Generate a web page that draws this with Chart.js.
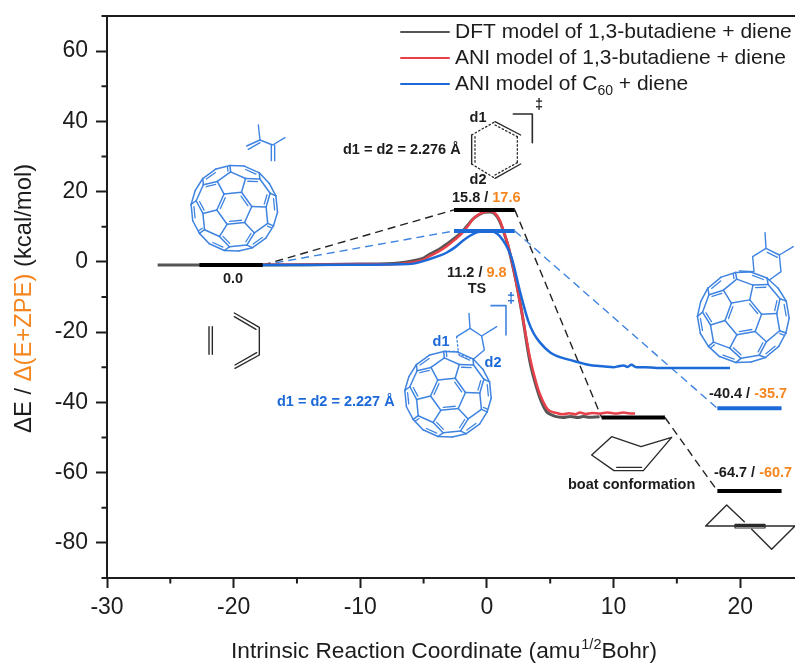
<!DOCTYPE html>
<html>
<head>
<meta charset="utf-8">
<style>html,body{margin:0;padding:0;background:#fff}canvas{display:block}</style>
<script src="https://cdn.jsdelivr.net/npm/chart.js@4"></script>
</head>
<body>
<canvas id="c" width="795" height="664"></canvas>
<script>
// ---- curves ----
const dftX = [-26,-22,-18,-14,-10,-8,-7,-6,-5,-4.5,-3.8,-3.2,-2.5,-1.9,-1.5,-1.1,-0.6,-0.2,0.2,0.6,1,1.3,1.65,1.95,2.3,2.74,3.4,3.9,4.3,4.7,5.0,5.4,6,6.6,7.2,7.6,8.0,8.9];
const dftY = [-0.9,-0.9,-0.9,-0.8,-0.6,-0.5,-0.3,0.2,1.1,2.2,3.5,5,6.9,8.8,10.5,12.2,13.5,14.1,14.2,13.7,11.6,8.8,4.8,0.3,-5.5,-14,-28.5,-35.5,-39.8,-42.6,-43.4,-44,-44.3,-44,-44.3,-44,-44.2,-44.1];
const aniButX = [-20,-15,-10,-7,-6,-5,-4.5,-3.8,-3.2,-2.5,-1.9,-1.5,-1.1,-0.6,-0.2,0.2,0.6,1,1.3,1.65,1.95,2.3,2.74,3.4,3.9,4.19,4.8,5.5,6,6.5,7,7.35,7.8,8.3,8.9,9.5,10.2,10.8,11.2,11.7];
const aniButY = [-0.8,-0.8,-0.7,-0.6,-0.2,0.6,1.7,3,4.4,6.4,8.4,10.2,12.2,13.6,14.2,14.4,14,12,9,5,0.5,-5.5,-14,-27.3,-34.5,-37.7,-42,-43,-43.4,-43.1,-43.4,-42.9,-43.3,-43,-43.2,-42.9,-43.2,-42.9,-43.1,-43.2];
const c60X = [-20.5,-15,-10,-7,-5.8,-4.5,-3.8,-3.2,-2.5,-1.9,-1.3,-0.8,-0.3,0.1,0.6,1,1.5,1.95,2.6,3.26,3.7,4.2,5,5.6,6.3,7.35,8,8.65,9.3,10,10.4,10.8,11.1,11.4,11.8,12.5,13.4,15,17,19.2];
const c60Y = [-0.9,-0.9,-0.8,-0.7,-0.5,0.8,1.7,2.6,4.2,6,7.5,8.4,8.8,8.9,8.5,7.4,4.8,1.2,-8.3,-16.8,-20.4,-23,-25.8,-26.9,-27.7,-28.7,-29.3,-29.6,-29.8,-30,-29.7,-29.5,-29.9,-29.3,-30,-30,-30.2,-30.2,-30.2,-30.2];

// ---- energy levels (x start, x end, energy) ----
const levelReactantX = [-22.7,-17.7];  const levelReactantY = [-0.9,-0.9];
const levelTsButX = [-2.6,2.2];        const levelTsButY = [14.8,14.8];
const levelTsC60X = [-2.6,2.2];        const levelTsC60Y = [8.8,8.8];
const levelBoatX = [9.06,14.06];       const levelBoatY = [-44.3,-44.3];
const levelProdC60X = [18.2,23.27];    const levelProdC60Y = [-41.7,-41.7];
const levelProdButX = [18.2,23.27];    const levelProdButY = [-65.2,-65.2];

// ---- dashed connectors ----
const dashA_X = [-17.7,-2.6]; const dashA_Y = [-0.9,14.8];
const dashB_X = [-17.7,-2.6]; const dashB_Y = [-0.9,8.8];
const dashC_X = [2.2,9.06];   const dashC_Y = [14.8,-44.3];
const dashD_X = [2.2,18.2];   const dashD_Y = [8.8,-41.7];
const dashE_X = [14.06,18.2]; const dashE_Y = [-44.3,-65.2];

const seriesNames = ['DFT model of 1,3-butadiene + diene','ANI model of 1,3-butadiene + diene','ANI model of C60 + diene'];
const xRange = [-30,24.33];
const yRange = [-90,70];

const GRAY='#555555', RED='#e8404a', BLUE='#1c69d8', MOL='#3f84e0', ORANGE='#f5861f', INK='#1c1c1c';
const FONT='"Liberation Sans", Arial, sans-serif';

const zip=(xs,ys)=>xs.map((x,i)=>({x,y:ys[i]}));
const curve=(label,xs,ys,color,order,w)=>({label,data:zip(xs,ys),borderColor:color,borderWidth:w,pointRadius:0,cubicInterpolationMode:'monotone',order,fill:false});
const level=(label,xs,ys,color)=>({label,data:zip(xs,ys),borderColor:color,borderWidth:4,pointRadius:0,order:0,fill:false,borderCapStyle:'butt'});
const dash=(label,xs,ys,color)=>({label,data:zip(xs,ys),borderColor:color,borderWidth:1.4,borderDash:[8,5],pointRadius:0,order:5,fill:false});

// ---- decorative molecule sketches ----
function stroke(ctx,pts,color,w,d){
  ctx.save();ctx.strokeStyle=color;ctx.lineWidth=w||1.4;ctx.lineJoin='round';ctx.lineCap='round';
  if(d)ctx.setLineDash(d);
  ctx.beginPath();pts.forEach((p,i)=>i?ctx.lineTo(p[0],p[1]):ctx.moveTo(p[0],p[1]));ctx.stroke();ctx.restore();
}
const crop=(ox,oy,pts)=>pts.map(p=>[ox+p[0]/3,oy+p[1]/3]);
const buckyVerts=(()=>{
  const f=(1+Math.sqrt(5))/2, base=[[0,1,3*f],[1,2+f,2*f],[f,2,2*f+1]], out=[], seen={};
  base.forEach(b=>{for(const s1 of[1,-1])for(const s2 of[1,-1])for(const s3 of[1,-1]){
    const v=[b[0]*s1,b[1]*s2,b[2]*s3];
    [[v[0],v[1],v[2]],[v[2],v[0],v[1]],[v[1],v[2],v[0]]].forEach(p=>{
      const k=p.map(n=>n.toFixed(3)).join();if(!seen[k]){seen[k]=1;out.push(p);}
    });
  }});
  return out;
})();
const pentaAxes=(()=>{
  const f=(1+Math.sqrt(5))/2,o=[];
  for(const a of[1,-1])for(const b of[f,-f]){o.push([0,a,b]);o.push([b,0,a]);o.push([a,b,0]);}
  return o;
})();
const pentaOf=v=>{let best=-1,bi=0;pentaAxes.forEach((a,i)=>{const d=a[0]*v[0]+a[1]*v[1]+a[2]*v[2];if(d>best){best=d;bi=i;}});return bi;};
function bucky(ctx,cx,cy,R,deg,color){
  const r2=Math.SQRT2,r3=Math.sqrt(3),r6=Math.sqrt(6),t=deg*Math.PI/180,k=R/4.956;
  const P=buckyVerts.map(v=>{
    const a=(v[0]-v[1])/r2,b=(v[0]+v[1]-2*v[2])/r6,z=(v[0]+v[1]+v[2])/r3;
    return {x:a*Math.cos(t)-b*Math.sin(t),y:a*Math.sin(t)+b*Math.cos(t),z,v,p:pentaOf(v)};
  });
  for(let i=0;i<P.length;i++)for(let j=i+1;j<P.length;j++){
    const A=P[i],B=P[j],d=Math.hypot(A.v[0]-B.v[0],A.v[1]-B.v[1],A.v[2]-B.v[2]);
    if(Math.abs(d-2)>0.05)continue;
    if((A.z+B.z)/2<-0.9)continue;
    const ax=cx+A.x*k,ay=cy+A.y*k,bx=cx+B.x*k,by=cy+B.y*k;
    stroke(ctx,[[ax,ay],[bx,by]],color,1.5);
    if(A.p!==B.p&&(A.z+B.z)/2>-0.2){
      const mx=(ax+bx)/2,my=(ay+by)/2,l=Math.hypot(bx-ax,by-ay)||1;
      let nx=-(by-ay)/l,ny=(bx-ax)/l;
      if(nx*(cx-mx)+ny*(cy-my)<0){nx=-nx;ny=-ny;}
      const s=0.16,o=2.6;
      stroke(ctx,[[ax+(bx-ax)*s+nx*o,ay+(by-ay)*s+ny*o],[bx-(bx-ax)*s+nx*o,by-(by-ay)*s+ny*o]],color,1.3);
    }
  }
}
function text(ctx,str,x,y,font,color,align){
  ctx.save();ctx.font=font;ctx.fillStyle=color;ctx.textAlign=align||'left';ctx.textBaseline='middle';ctx.fillText(str,x,y);ctx.restore();
}
function runs(ctx,x,y,font,parts){
  ctx.save();ctx.font=font;ctx.textAlign='left';ctx.textBaseline='middle';
  parts.forEach(p=>{ctx.fillStyle=p[1];ctx.fillText(p[0],x,y);x+=ctx.measureText(p[0]).width;});ctx.restore();
}
function molecules(ctx){
  const BK='#2a2a2a';
  // reactants
  let c=(p,col,w,d)=>stroke(ctx,crop(130,120,p),col,w,d);
  c([[237,620],[237,703]],BK);c([[247,620],[247,703]],BK);
  c([[313,579],[388,622],[388,705],[315,745]],BK);c([[313,590],[378,628]],BK);c([[315,735],[380,698]],BK);
  c([[385,15],[390,60],[428,75],[465,53]],MOL);c([[390,60],[350,78]],MOL);c([[390,68],[355,88]],MOL);
  c([[424,75],[424,122]],MOL);c([[434,75],[434,122]],MOL);
  bucky(ctx,234.3,208.3,43.5,32,MOL);
  // butadiene TS
  c=(p,col,w,d)=>stroke(ctx,crop(330,90,p),col,w,d);
  const dot=[1.5,2.5];
  c([[495,95],[572,135]],BK);c([[425,135],[425,222]],BK);c([[572,222],[495,265]],BK);
  c([[495,105],[562,140]],BK,1.3,dot);c([[562,140],[562,218]],BK,1.3,dot);c([[562,218],[495,255]],BK,1.3,dot);
  c([[435,140],[435,218]],BK,1.3,dot);c([[425,135],[495,95]],BK,1.3,dot);c([[425,222],[495,265]],BK,1.3,dot);
  c([[550,72],[607,72],[607,158]],BK,1.6);
  // C60 TS
  bucky(ctx,448,394.3,43.5,32,MOL);
  c=(p,col,w,d)=>stroke(ctx,crop(270,280,p),col,w,d);
  c([[610,238],[643,210],[635,168],[600,145],[560,170]],MOL);
  c([[560,170],[565,215]],MOL,1.3,dot);c([[565,215],[522,213]],MOL,1.3,dot);c([[565,222],[610,238]],MOL,1.3,dot);
  c([[600,145],[597,100]],MOL);c([[635,168],[680,140]],MOL);
  c([[663,77],[708,77],[708,165]],MOL,1.6);
  // boat and twisted products
  c=(p,col,w,d)=>stroke(ctx,crop(480,290,p),col,w,d);
  c([[395,440],[483,470],[575,442],[490,542],[402,542],[335,495],[395,440]],BK);c([[410,532],[485,532]],BK);
  c([[793,695],[740,645],[677,708],[770,708]],BK);c([[855,708],[945,708],[875,778],[815,718]],BK);
  c([[765,703],[855,703],[855,714],[765,714],[765,703]],BK,1.2);c([[768,708],[852,708]],BK,1.8);
  // C60 product
  bucky(ctx,743.3,317.3,46,28,MOL);
  c=(p,col,w,d)=>stroke(ctx,crop(680,220,p),col,w,d);
  c([[268,180],[303,155],[298,105],[258,85],[218,110],[222,155],[178,153]],MOL);c([[262,97],[292,112]],MOL);
  c([[258,85],[255,38]],MOL);c([[298,105],[340,80]],MOL);
}
const decorations={id:'decorations',
  afterDatasetsDraw(chart){
    const ctx=chart.ctx,x=chart.scales.x,y=chart.scales.y,A=chart.chartArea;
    // top frame line
    stroke(ctx,[[A.left,A.top],[A.right,A.top]],INK,2);
    // minor ticks
    x.ticks.forEach(t=>{if(t.value%10!==0){const p=x.getPixelForValue(t.value);ctx.save();ctx.strokeStyle=INK;ctx.lineWidth=2;ctx.beginPath();ctx.moveTo(p,A.bottom);ctx.lineTo(p,A.bottom+5.5);ctx.stroke();ctx.restore();}});
    y.ticks.forEach(t=>{if(t.value%20!==0){const p=y.getPixelForValue(t.value);ctx.save();ctx.strokeStyle=INK;ctx.lineWidth=2;ctx.beginPath();ctx.moveTo(A.left,p);ctx.lineTo(A.left-5.5,p);ctx.stroke();ctx.restore();}});
    molecules(ctx);
    // axis titles
    ctx.save();ctx.translate(24,433);ctx.rotate(-Math.PI/2);
    runs(ctx,0,0,'23.8px '+FONT,[['ΔE / ',INK],['Δ(E+ZPE)',ORANGE],[' (kcal/mol)',INK]]);ctx.restore();
    const F='22.7px '+FONT,SF='14.5px '+FONT;
    ctx.save();ctx.font=F;const w1=ctx.measureText('Intrinsic Reaction Coordinate (amu').width;ctx.font=SF;const w2=ctx.measureText('1/2').width;ctx.restore();
    text(ctx,'Intrinsic Reaction Coordinate (amu',231,652,F,INK);
    text(ctx,'1/2',231+w1+1,645,SF,INK);
    text(ctx,'Bohr)',231+w1+w2+1,652,F,INK);
    // legend
    const L='21px '+FONT,cols=[GRAY,RED,BLUE],ly=[32,58,84];
    seriesNames.forEach((n,i)=>{
      stroke(ctx,[[401,ly[i]],[449,ly[i]]],cols[i],2);
      if(i<2)text(ctx,n,455,ly[i],L,INK);
    });
    const base='ANI model of C';
    text(ctx,base,455,84,L,INK);
    ctx.save();ctx.font=L;const wb=ctx.measureText(base).width;ctx.font='14px '+FONT;const ws=ctx.measureText('60').width;ctx.restore();
    text(ctx,'60',455+wb,91,'14px '+FONT,INK);
    text(ctx,' + diene',455+wb+ws,84,L,INK);
    // annotations
    const B='bold 14.5px '+FONT;
    text(ctx,'d1 = d2 = 2.276 Å',343,150,B,INK);
    text(ctx,'d1',478,118,B,INK,'center');
    text(ctx,'d2',478,180,B,INK,'center');
    text(ctx,'‡',539,105,B,INK,'center');
    runs(ctx,452,198,B,[['15.8 / ',INK],['17.6',ORANGE]]);
    runs(ctx,447,273,B,[['11.2 / ',INK],['9.8',ORANGE]]);
    text(ctx,'TS',477,289,B,INK,'center');
    text(ctx,'0.0',233,279,B,INK,'center');
    text(ctx,'d1 = d2 = 2.227 Å',277,401.5,B,BLUE);
    text(ctx,'d1',441,342,B,BLUE,'center');
    text(ctx,'d2',493,363,B,BLUE,'center');
    text(ctx,'‡',511,299,B,BLUE,'center');
    runs(ctx,709,394,B,[['-40.4 / ',INK],['-35.7',ORANGE]]);
    runs(ctx,714,473,B,[['-64.7 / ',INK],['-60.7',ORANGE]]);
    text(ctx,'boat conformation',568,485,B,INK);
  }
};

new Chart(document.getElementById('c'),{
  type:'line',
  data:{datasets:[
    curve(seriesNames[2],c60X,c60Y,BLUE,1,2.5),
    curve(seriesNames[1],aniButX,aniButY,RED,2,2.5),
    curve(seriesNames[0],dftX,dftY,GRAY,3,3),
    level('Reactant level',levelReactantX,levelReactantY,'#000'),
    level('TS level butadiene',levelTsButX,levelTsButY,'#000'),
    level('TS level C60',levelTsC60X,levelTsC60Y,BLUE),
    level('Boat level',levelBoatX,levelBoatY,'#000'),
    level('Product level C60',levelProdC60X,levelProdC60Y,BLUE),
    level('Product level butadiene',levelProdButX,levelProdButY,'#000'),
    dash('Path A',dashA_X,dashA_Y,'#222'),
    dash('Path B',dashB_X,dashB_Y,MOL),
    dash('Path C',dashC_X,dashC_Y,'#222'),
    dash('Path D',dashD_X,dashD_Y,MOL),
    dash('Path E',dashE_X,dashE_Y,'#222')
  ]},
  options:{
    responsive:false,animation:false,
    layout:{padding:{top:16,right:0,left:0,bottom:0}},
    plugins:{legend:{display:false},tooltip:{enabled:false}},
    scales:{
      x:{type:'linear',min:xRange[0],max:xRange[1],
        afterFit(s){s.height=86;s.paddingLeft=0;s.paddingRight=0;},
        border:{color:INK,width:2},
        grid:{drawOnChartArea:false,tickLength:10,tickWidth:2,tickColor:c=>c.tick&&c.tick.value%10===0?INK:'transparent'},
        ticks:{stepSize:5,includeBounds:false,autoSkip:false,maxRotation:0,padding:6,color:INK,font:{family:FONT,size:23},
          callback:v=>v%10===0?String(v):''}},
      y:{type:'linear',min:yRange[0],max:yRange[1],
        afterFit(s){s.width=107;s.paddingTop=0;s.paddingBottom=0;},
        border:{color:INK,width:2},
        grid:{drawOnChartArea:false,tickLength:11,tickWidth:2,tickColor:c=>c.tick&&c.tick.value%20===0?INK:'transparent'},
        ticks:{stepSize:10,autoSkip:false,padding:8,color:INK,font:{family:FONT,size:23},
          callback:v=>v%20===0?String(v):''}}
    }
  },
  plugins:[decorations]
});
</script>
</body>
</html>
